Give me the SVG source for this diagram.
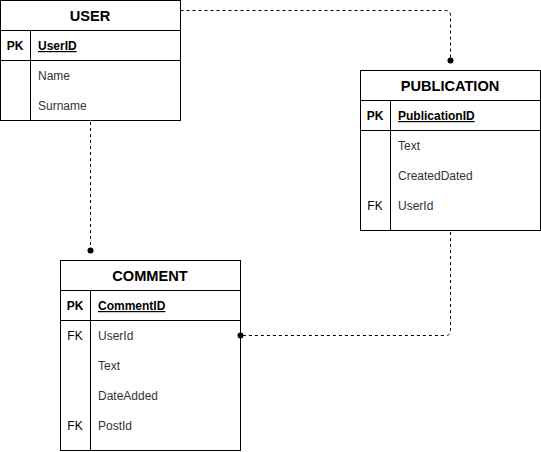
<svg xmlns="http://www.w3.org/2000/svg" width="541" height="452" viewBox="0 0 541 452">
<style>
.box{fill:#fff;stroke:#000;stroke-width:1}
.ln{stroke:#000;stroke-width:1;fill:none}
.hd{font-family:"Liberation Sans",Arial,sans-serif;font-size:14.6px;font-weight:bold;fill:#000;text-anchor:middle}
.k{font-family:"Liberation Sans",Arial,sans-serif;font-size:12px;fill:#000;text-anchor:middle}
.kb{font-weight:bold}
.f{font-family:"Liberation Sans",Arial,sans-serif;font-size:12px;fill:#333}
.fp{font-weight:bold;text-decoration:underline;fill:#000}
.edge{stroke:#000;stroke-width:1;fill:none;stroke-dasharray:3 3}
.dot{fill:#000}
</style>
<rect width="541" height="452" fill="#fff"/>
<g id="user">
<rect class="box" x="0.5" y="0.5" width="180" height="120"/>
<path class="ln" d="M0.5,30.5 H180.5 M0.5,60.5 H180.5 M30.5,30.5 V120.5"/>
<text class="hd" x="90" y="21">USER</text>
<text class="k kb" x="15" y="50">PK</text>
<text class="f fp" x="38" y="50">UserID</text>
<text class="f" x="38" y="80">Name</text>
<text class="f" x="38" y="110">Surname</text>
</g>
<g id="publication">
<rect class="box" x="360.5" y="70.5" width="180" height="160"/>
<path class="ln" d="M360.5,100.5 H540.5 M360.5,130.5 H540.5 M390.5,100.5 V230.5"/>
<text class="hd" x="450" y="91">PUBLICATION</text>
<text class="k kb" x="375" y="120">PK</text>
<text class="f fp" x="398" y="120">PublicationID</text>
<text class="f" x="398" y="150">Text</text>
<text class="f" x="398" y="180">CreatedDated</text>
<text class="k" x="375" y="210">FK</text>
<text class="f" x="398" y="210">UserId</text>
</g>
<g id="comment">
<rect class="box" x="60.5" y="260.5" width="180" height="190"/>
<path class="ln" d="M60.5,290.5 H240.5 M60.5,320.5 H240.5 M90.5,290.5 V450.5"/>
<text class="hd" x="150" y="281">COMMENT</text>
<text class="k kb" x="75" y="310">PK</text>
<text class="f fp" x="98" y="310">CommentID</text>
<text class="k" x="75" y="340">FK</text>
<text class="f" x="98" y="340">UserId</text>
<text class="f" x="98" y="370">Text</text>
<text class="f" x="98" y="400">DateAdded</text>
<text class="k" x="75" y="430">FK</text>
<text class="f" x="98" y="430">PostId</text>
</g>
<g id="connectors">
<path class="edge" d="M180.5,10.5 H445.5 Q450.5,10.5 450.5,15.5 V60.5"/>
<circle class="dot" cx="450.5" cy="60.5" r="3"/>
<path class="edge" d="M90.5,122 V250.5"/>
<circle class="dot" cx="90.5" cy="250.5" r="3"/>
<path class="edge" d="M450.5,232 V330.5 Q450.5,335.5 445.5,335.5 H240.5"/>
<circle class="dot" cx="240.5" cy="335.5" r="3"/>
</g>
</svg>
